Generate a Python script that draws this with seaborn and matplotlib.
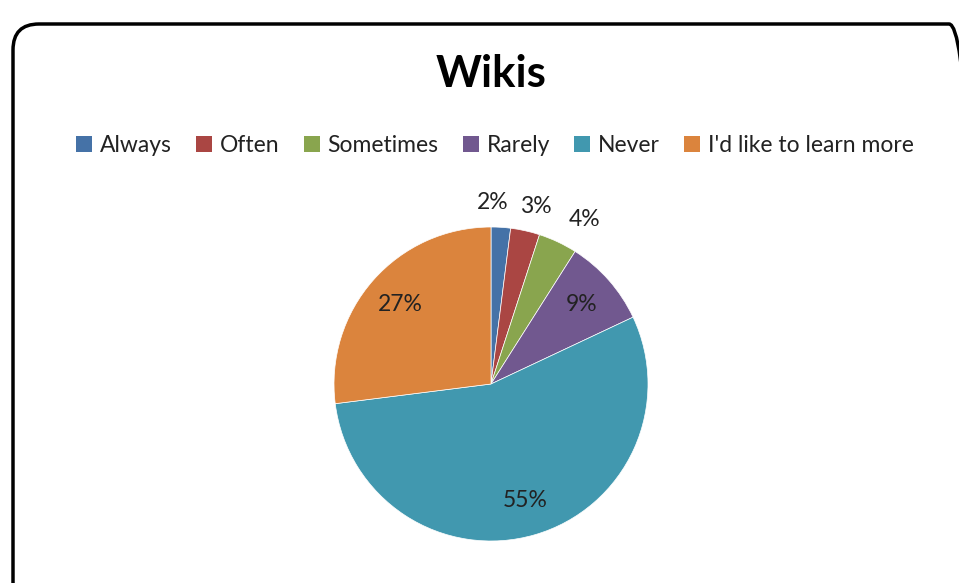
import matplotlib
matplotlib.use("Agg")
import matplotlib.pyplot as plt
import seaborn as sns
import numpy as np
from matplotlib.patches import FancyBboxPatch, Patch
from matplotlib.transforms import IdentityTransform

# données
categories = ["Always", "Often", "Sometimes", "Rarely", "Never", "I'd like to learn more"]
percents = [2, 3, 4, 9, 55, 27]
colors = ["#4572A7", "#AA4643", "#89A54E", "#71588F", "#4198AF", "#DB843D"]
title = "Wikis"

sns.set_theme(style="white")
plt.rcParams["font.family"] = ["Lato", "DejaVu Sans"]

W, H = 959, 583
fig = plt.figure(figsize=(W / 100, H / 100), dpi=100)
fig.patch.set_facecolor("white")

# axes du camembert : centre (491, 384), rayon 157 px
cx, cy, r = 491, 384, 157
ax = fig.add_axes([(cx - r) / W, (H - cy - r) / H, 2 * r / W, 2 * r / H])
wedges, _ = ax.pie(percents, colors=colors, startangle=90, counterclock=False,
                   radius=1, wedgeprops=dict(linewidth=0.5, edgecolor="white"))
ax.set_xlim(-1, 1)
ax.set_ylim(-1, 1)
ax.set_aspect("equal")
ax.axis("off")

# étiquettes de pourcentage (petites parts à l'extérieur, écartées à la main)
outside_shift = [-10, 5, 16]
k = 0
for w, p in zip(wedges, percents):
    ang = np.deg2rad((w.theta1 + w.theta2) / 2)
    if p < 5:
        d = 1.16
        dx = outside_shift[k]
        k += 1
    else:
        d = 0.77
        dx = 0
    ax.annotate(f"{p}%", (d * np.cos(ang), d * np.sin(ang)), xytext=(dx * 0.72, 0),
                textcoords="offset points", ha="center", va="center",
                fontsize=16.5, color="#222222", annotation_clip=False)

# titre
fig.text(cx / W, 1 - 74 / H, title, ha="center", va="center", fontsize=31.5,
         fontweight="bold", color="black")

# légende
handles = [Patch(facecolor=c, edgecolor="none") for c in colors]
fig.legend(handles, categories, loc="center", bbox_to_anchor=(495 / W, 1 - 146 / H),
           ncol=6, frameon=False, fontsize=16.5, handlelength=0.7, handleheight=0.7,
           handletextpad=0.35, columnspacing=1.05, labelcolor="#222222")

# cadre arrondi
frame = FancyBboxPatch((13, -25), 962, 584, boxstyle="round,pad=0,rounding_size=26",
                       transform=IdentityTransform(), facecolor="none",
                       edgecolor="black", linewidth=2.5)
fig.add_artist(frame)

fig.savefig("out.png", dpi=100, facecolor="white")
